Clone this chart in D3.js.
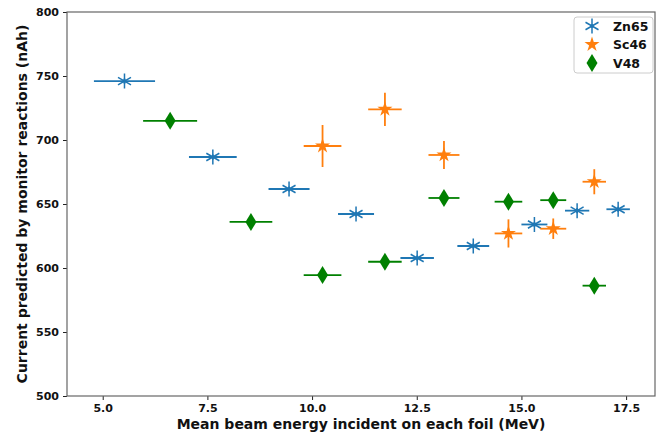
<!DOCTYPE html>
<html>
<head>
<meta charset="utf-8">
<script src="https://cdn.jsdelivr.net/npm/d3@7"></script>
<style>
  body { margin: 0; background: #fff; }
  text { font-family: "DejaVu Sans", sans-serif; font-weight: bold; }
</style>
</head>
<body>
<div id="chart"></div>
<script>
// data
var znEnergy = [5.52, 7.63, 9.45, 11.05, 12.51, 13.85, 15.31, 16.33, 17.31];
var znEnergyErr = [0.73, 0.57, 0.49, 0.43, 0.40, 0.38, 0.31, 0.29, 0.28];
var znCurrent = [746, 686.7, 661.7, 642.2, 607.8, 617.2, 634, 644.8, 645.9];
var znCurrentErr = [2, 2, 2, 2, 2, 2, 2, 2, 2];

var scEnergy = [10.25, 11.74, 13.15, 14.69, 15.76, 16.74];
var scEnergyErr = [0.45, 0.40, 0.37, 0.33, 0.31, 0.28];
var scCurrent = [695.3, 724, 688.3, 627, 630.7, 667.4];
var scCurrentErr = [16.4, 13, 11, 11, 8, 9.8];

var vEnergy = [6.61, 8.54, 10.25, 11.74, 13.15, 14.69, 15.76, 16.74];
var vEnergyErr = [0.645, 0.51, 0.45, 0.40, 0.37, 0.33, 0.31, 0.28];
var vCurrent = [715, 636, 594.5, 604.9, 654.7, 651.8, 653, 586.2];
var vCurrentErr = [2, 2, 2, 2, 2, 2, 2, 2];

var xTicks = [5.0, 7.5, 10.0, 12.5, 15.0, 17.5];
var yTicks = [500, 550, 600, 650, 700, 750, 800];

var W = 664, H = 437;
var margin = {left: 67, right: 9, top: 12, bottom: 41};

var x = d3.scaleLinear().domain([4.147, 18.19]).range([margin.left, W - margin.right]);
var y = d3.scaleLinear().domain([500, 800]).range([H - margin.bottom, margin.top]);

var svg = d3.select('#chart').append('svg')
  .attr('width', W).attr('height', H);

// marker shapes
function asterisk(r) {
  var p = '';
  for (var i = 0; i < 3; i++) {
    var a = Math.PI / 2 + i * Math.PI / 3;
    var dx = r * Math.cos(a), dy = r * Math.sin(a);
    p += 'M' + (-dx) + ',' + (-dy) + 'L' + dx + ',' + dy;
  }
  return p;
}
function thinDiamond(w, h) {
  return 'M0,' + (-h) + 'L' + w + ',0L0,' + h + 'L' + (-w) + ',0Z';
}

var series = [
  {name: 'Zn65', color: '#1f77b4', ex: znEnergy, exErr: znEnergyErr, cy: znCurrent, cyErr: znCurrentErr, marker: 'asterisk'},
  {name: 'Sc46', color: '#ff7f0e', ex: scEnergy, exErr: scEnergyErr, cy: scCurrent, cyErr: scCurrentErr, marker: 'star'},
  {name: 'V48', color: '#008000', ex: vEnergy, exErr: vEnergyErr, cy: vCurrent, cyErr: vCurrentErr, marker: 'diamond'}
];

function drawMarker(g, kind, color) {
  if (kind === 'asterisk') {
    g.append('path').attr('d', asterisk(7.5))
      .attr('stroke', color).attr('stroke-width', 1.5).attr('fill', 'none');
    g.append('circle').attr('r', 1.8).attr('fill', color);
  } else if (kind === 'star') {
    g.append('path').attr('d', d3.symbol().type(d3.symbolStar).size(70)())
      .attr('fill', color);
  } else {
    g.append('path').attr('d', thinDiamond(5.5, 9))
      .attr('fill', color);
  }
}

var plot = svg.append('g');

series.forEach(function(s) {
  var pts = s.ex.map(function(v, i) {
    return {x: v, xe: s.exErr[i], y: s.cy[i], ye: s.cyErr[i]};
  });
  var grp = plot.append('g');
  grp.selectAll('line.xe').data(pts).enter().append('line')
    .attr('x1', function(d) { return x(d.x - d.xe); })
    .attr('x2', function(d) { return x(d.x + d.xe); })
    .attr('y1', function(d) { return y(d.y); })
    .attr('y2', function(d) { return y(d.y); })
    .attr('stroke', s.color).attr('stroke-width', 1.8);
  grp.selectAll('line.ye').data(pts).enter().append('line')
    .attr('x1', function(d) { return x(d.x); })
    .attr('x2', function(d) { return x(d.x); })
    .attr('y1', function(d) { return y(d.y - d.ye); })
    .attr('y2', function(d) { return y(d.y + d.ye); })
    .attr('stroke', s.color).attr('stroke-width', 1.8);
  grp.selectAll('g.m').data(pts).enter().append('g')
    .attr('transform', function(d) { return 'translate(' + x(d.x) + ',' + y(d.y) + ')'; })
    .each(function() { drawMarker(d3.select(this), s.marker, s.color); });
});

// axes
var xAxis = svg.append('g')
  .attr('transform', 'translate(0,' + (H - margin.bottom) + ')')
  .call(d3.axisBottom(x).tickValues(xTicks).tickFormat(d3.format('.1f')).tickSize(4).tickPadding(4));
var yAxis = svg.append('g')
  .attr('transform', 'translate(' + margin.left + ',0)')
  .call(d3.axisLeft(y).tickValues(yTicks).tickSize(4).tickPadding(4));
[xAxis, yAxis].forEach(function(a) {
  a.select('.domain').remove();
  a.selectAll('.tick line').attr('stroke', '#222');
  a.selectAll('.tick text').attr('font-size', 11).attr('fill', '#111')
    .style('font-family', '"DejaVu Sans", sans-serif').style('font-weight', 'bold');
});

// frame
svg.append('rect')
  .attr('x', margin.left).attr('y', margin.top)
  .attr('width', W - margin.left - margin.right)
  .attr('height', H - margin.top - margin.bottom)
  .attr('fill', 'none').attr('stroke', '#666').attr('stroke-width', 1.2);

// axis labels
svg.append('text')
  .attr('x', (margin.left + W - margin.right) / 2).attr('y', 429)
  .attr('text-anchor', 'middle').attr('font-size', 14).attr('fill', '#111')
  .text('Mean beam energy incident on each foil (MeV)');
svg.append('text')
  .attr('transform', 'translate(27,' + ((margin.top + H - margin.bottom) / 2) + ') rotate(-90)')
  .attr('text-anchor', 'middle').attr('font-size', 14).attr('fill', '#111')
  .text('Current predicted by monitor reactions (nAh)');

// legend
var legend = svg.append('g').attr('transform', 'translate(574,17)');
legend.append('rect').attr('width', 79).attr('height', 56).attr('rx', 3)
  .attr('fill', '#fff').attr('stroke', '#ccc');
series.forEach(function(s, i) {
  var row = legend.append('g').attr('transform', 'translate(18,' + (9 + i * 18.5) + ')');
  drawMarker(row, s.marker, s.color);
  row.append('text').attr('x', 21).attr('y', 4.5).attr('font-size', 12.5).attr('fill', '#111').text(s.name);
});
</script>
</body>
</html>
